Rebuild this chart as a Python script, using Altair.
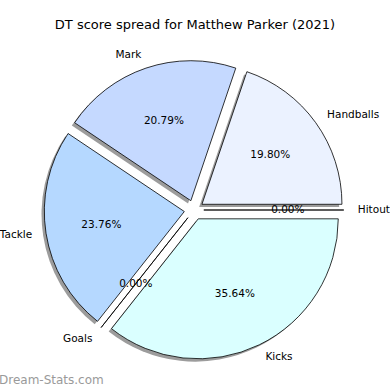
import altair as alt
import pandas as pd

labels = ["Handballs", "Mark", "Tackle", "Goals", "Kicks", "Hitout"]
values = [20, 21, 24, 0, 36, 0]
colors = ["#ebf2ff", "#c5d9ff", "#b5d8ff", "#c8e6ff", "#daffff", "#e0e8ff"]
title_text = "DT score spread for Matthew Parker (2021)"
watermark = "Dream-Stats.com"

df = pd.DataFrame({"label": labels, "value": values, "order": list(range(len(labels)))})

EXPLODE = 0.07
R_PX = 140
FONT = "DejaVu Sans"

xs = alt.Scale(domain=[-194 / R_PX, 196 / R_PX])
ys = alt.Scale(domain=[-(390 - 210) / R_PX, 210 / R_PX])

base = (
    alt.Chart(df)
    .transform_window(cum="sum(value)", sort=[{"field": "order"}], frame=[None, 0])
    .transform_joinaggregate(total="sum(value)")
    .transform_calculate(
        a0="2*PI*(datum.cum-datum.value)/datum.total",
        a1="2*PI*datum.cum/datum.total",
    )
    .transform_calculate(am="(datum.a0+datum.a1)/2")
    .transform_calculate(
        t0="PI/2-datum.a0",
        t1="PI/2-datum.a1",
        cx=f"{EXPLODE}*cos(datum.am)",
        cy=f"{EXPLODE}*sin(datum.am)",
        sx=f"{EXPLODE}*cos(datum.am)-0.02",
        sy=f"{EXPLODE}*sin(datum.am)-0.02",
        lx=f"({EXPLODE}+1.1)*cos(datum.am)",
        ly=f"({EXPLODE}+1.1)*sin(datum.am)",
        px=f"({EXPLODE}+0.6)*cos(datum.am)",
        py=f"({EXPLODE}+0.6)*sin(datum.am)",
        pct="format(100*datum.value/datum.total, '.2f') + '%'",
    )
)

shadow = base.mark_arc(radius=R_PX, fill="#9c9c9c").encode(
    x=alt.X("sx:Q", scale=xs, axis=None),
    y=alt.Y("sy:Q", scale=ys, axis=None),
    theta=alt.Theta("t0:Q", scale=None),
    theta2="t1:Q",
)

wedges = base.mark_arc(radius=R_PX, stroke="black", strokeWidth=0.8).encode(
    x=alt.X("cx:Q", scale=xs, axis=None),
    y=alt.Y("cy:Q", scale=ys, axis=None),
    theta=alt.Theta("t0:Q", scale=None),
    theta2="t1:Q",
    color=alt.Color("label:N", scale=alt.Scale(domain=labels, range=colors), legend=None),
)

lab_left = base.transform_filter("datum.lx > 0").mark_text(
    align="left", baseline="middle", font=FONT, fontSize=10.5, color="black"
).encode(
    x=alt.X("lx:Q", scale=xs, axis=None),
    y=alt.Y("ly:Q", scale=ys, axis=None),
    text="label:N",
)

lab_right = base.transform_filter("datum.lx <= 0").mark_text(
    align="right", baseline="middle", font=FONT, fontSize=10.5, color="black"
).encode(
    x=alt.X("lx:Q", scale=xs, axis=None),
    y=alt.Y("ly:Q", scale=ys, axis=None),
    text="label:N",
)

pcts = base.mark_text(
    align="center", baseline="middle", font=FONT, fontSize=10.5, color="black"
).encode(
    x=alt.X("px:Q", scale=xs, axis=None),
    y=alt.Y("py:Q", scale=ys, axis=None),
    text="pct:N",
)

title = alt.Chart(pd.DataFrame({"t": [title_text]})).mark_text(
    align="center", baseline="middle", font=FONT, fontSize=13, color="black"
).encode(x=alt.value(195), y=alt.value(25), text="t:N")

wm = alt.Chart(pd.DataFrame({"t": [watermark]})).mark_text(
    align="left", baseline="middle", font=FONT, fontSize=12, color="#9a9a9a"
).encode(x=alt.value(-1), y=alt.value(380), text="t:N")

chart = (
    alt.layer(shadow, wedges, lab_left, lab_right, pcts, title, wm)
    .properties(width=390, height=390, padding=0, autosize="none", background="white")
    .configure_view(stroke=None)
)

chart.save("out.html", embed_options={"renderer": "svg", "actions": False})
